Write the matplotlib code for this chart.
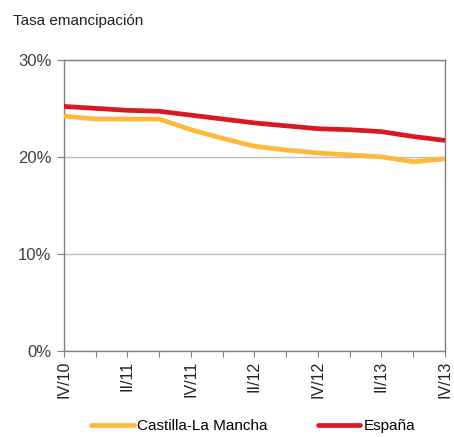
import matplotlib
matplotlib.use("Agg")
from matplotlib import pyplot as plt
from matplotlib.ticker import FuncFormatter

quarters = ["IV/10", "I/11", "II/11", "III/11", "IV/11", "I/12", "II/12",
            "III/12", "IV/12", "I/13", "II/13", "III/13", "IV/13"]
castilla = [24.2, 23.9, 23.9, 23.9, 22.8, 21.9, 21.1, 20.7, 20.4, 20.2, 20.0, 19.5, 19.8]
espana = [25.2, 25.0, 24.8, 24.7, 24.3, 23.9, 23.5, 23.2, 22.9, 22.8, 22.6, 22.1, 21.7]
yticks = [0, 10, 20, 30]

plt.rcParams['font.family'] = ['Liberation Sans', 'DejaVu Sans']

fig = plt.figure(figsize=(4.54, 4.37), dpi=100)
ax = fig.add_axes([0.141, 0.197, 0.839, 0.666])

x = list(range(len(quarters)))
ax.plot(x, castilla, color="#FDB93A", lw=3.4, solid_capstyle="round",
        solid_joinstyle="round", label="Castilla-La Mancha", zorder=3)
ax.plot(x, espana, color="#D71921", lw=3.4, solid_capstyle="round",
        solid_joinstyle="round", label="España", zorder=3)

ax.set_xlim(0, len(quarters) - 1)
ax.set_ylim(0, 30)
ax.set_yticks(yticks)
ax.yaxis.set_major_formatter(FuncFormatter(lambda v, p: f"{v:.0f}%"))
ax.grid(axis="y", color="#BFBFBF", lw=1)
ax.set_axisbelow(True)

ax.set_xticks(x)
ax.set_xticklabels([q if i % 2 == 0 else "" for i, q in enumerate(quarters)],
                   rotation=90, fontsize=11.5, color="#222222")
ax.tick_params(axis="x", length=4, color="#808080", pad=3)
ax.tick_params(axis="y", length=5, color="#808080", labelsize=12,
               labelcolor="#404040", pad=4)
for s in ax.spines.values():
    s.set_color("#808080")
    s.set_linewidth(1)

fig.text(0.029, 0.953, "Tasa emancipación", fontsize=11, color="#222222",
         va="center", ha="left")

fig.legend(loc="lower center", bbox_to_anchor=(0.557, -0.022), ncol=2,
           frameon=False, fontsize=11, handlelength=2.8, handletextpad=0.2,
           columnspacing=3.3)

fig.savefig("out.png", dpi=100)
